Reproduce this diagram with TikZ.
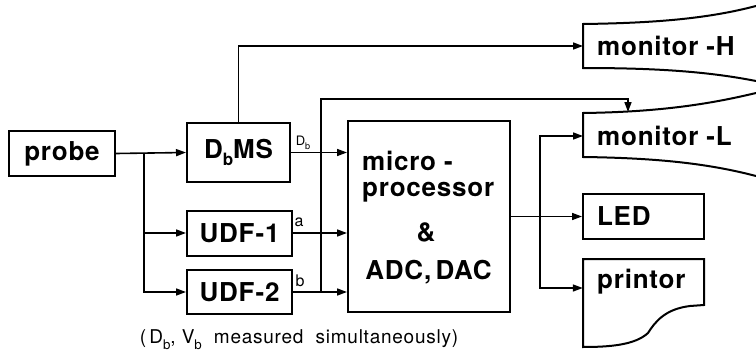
\documentclass[tikz,border=0pt]{standalone}
\usepackage{fontspec}
\setmainfont{TeX Gyre Heros}
\newfontfamily\boxfont[LetterSpace=3]{TeX Gyre Heros}
\newfontfamily\capfont[LetterSpace=4]{TeX Gyre Heros}
\usetikzlibrary{arrows.meta,calc}
\newcommand\subb[1]{\raisebox{-0.28em}{\fontsize{17}{17}\selectfont #1}}
\newcommand\subc[1]{\raisebox{-0.3em}{\fontsize{0.7em}{0.7em}\selectfont #1}}
\begin{document}
\begin{tikzpicture}[x=1pt,y=-1pt,
  bigtxt/.style={font={\boxfont\bfseries\fontsize{26}{26}\selectfont}},
  blk/.style={draw,line width=2pt,minimum height=45pt,inner sep=0pt,bigtxt},
  lbl/.style={inner sep=0pt,font={\fontsize{16}{16}\selectfont}},
  ln/.style={line width=1.6pt},
  arr/.style={ln,-{Triangle[length=10pt,width=7pt]}},
  outl/.style={line width=2pt}]
\useasboundingbox[fill=white] (0,0) rectangle (756,356);
% blocks
\node[blk,minimum width=106pt] (probe) at (62,153.5) {probe};
\node[blk,minimum width=103pt,minimum height=59pt] (dbms) at (238.5,152.5) {D\subb{b}MS};
\node[blk,minimum width=105pt] (udf1) at (239.5,233) {UDF-1};
\node[blk,minimum width=105pt,minimum height=44pt] (udf2) at (239.5,292) {UDF-2};
\node[blk,minimum width=162pt,minimum height=191pt] (mp) at (429,216.5) {};
\node[bigtxt,anchor=west,align=left,inner sep=0pt] (mpt) at (362,177) {micro -\\processor};
\node[bigtxt,inner sep=0pt] (amp) at (426,232) {\&};
\node[bigtxt,inner sep=0pt] (adc) at (428.5,272) {ADC,\,DAC};
% monitors
\node[bigtxt,anchor=west,inner xsep=14pt,inner ysep=0pt,minimum height=44pt] (monH) at (583,46) {monitor -H};
\draw[outl] (756,6) .. controls (710,18) and (660,23) .. (583,24) -- (583,68)
  .. controls (660,68) and (710,72) .. (756,81);
\node[bigtxt,anchor=west,inner xsep=14pt,inner ysep=0pt,minimum height=44pt] (monL) at (583,136) {monitor -L};
\draw[outl] (756,93) .. controls (710,104) and (660,112) .. (583,113) -- (583,157)
  .. controls (660,158) and (710,164) .. (756,176);
\coordinate (monLtop) at (628,112);
% LED and printor
\node[blk,minimum width=121pt,text width=93pt,inner xsep=14pt,align=left] (led) at (643.5,216.5) {LED};
\node[minimum width=121pt,minimum height=88pt,inner sep=0pt] (prn) at (643.5,303) {};
\draw[outl] (583,259) -- (704,259) -- (704,305) -- (690,306)
  .. controls (665,309) and (655,322) .. (648,333)
  .. controls (635,345) and (610,347) .. (583,347) -- cycle;
\node[bigtxt,anchor=west,inner sep=0pt] (prt) at (597,282) {printor};
\path (prn.west) ++(0,-15) coordinate (prnin);
% labels
\node[lbl,font={\fontsize{13}{13}\selectfont}] (lDb) at (303,143) {D\subc{b}};
\node[lbl] (la) at (299,222) {a};
\node[lbl] (lb) at (300,281) {b};
\node[font={\capfont\fontsize{19}{20}\selectfont}] (cap) at (299,340) {(\,D\subc{b}, V\subc{b}\ \ measured\ \ simultaneously)};
% connectors
\draw[arr] (probe.east) -- (dbms.west);
\coordinate (j1) at ($(probe.east)+(28,0)$);
\draw[arr] (j1) |- (udf2.west);
\draw[arr] (j1 |- udf1.west) -- (udf1.west);
\draw[arr] (dbms.east) -- (dbms.east -| mp.west);
\draw[arr] (udf1.east) -- (udf1.east -| mp.west);
\draw[arr] (udf2.east) -- (udf2.east -| mp.west);
\coordinate (vb) at ($(udf2.east)+(28,0)$);
\draw[arr] (vb) -- ++(0,-193) -| (monLtop);
\draw[arr] (dbms.north) |- (monH.west);
\coordinate (sp) at ($(mp.east)+(29,0)$);
\draw[ln] (mp.east) -- (sp);
\draw[arr] (sp) |- (monL.west);
\draw[arr] (sp) -- (sp -| led.west);
\draw[arr] (sp) |- (prnin);
\end{tikzpicture}
\end{document}
